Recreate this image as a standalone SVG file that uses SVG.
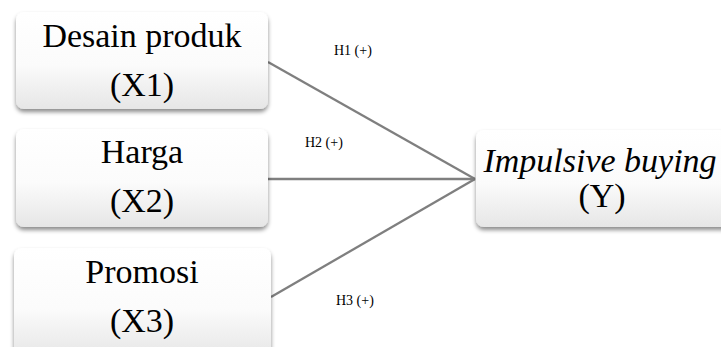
<svg xmlns="http://www.w3.org/2000/svg" width="721" height="347" viewBox="0 0 721 347">
<style>
.box{fill:url(#g);filter:url(#sh)}
.t{font-family:"Liberation Serif","Times New Roman",serif;font-size:34px;fill:#000;text-anchor:middle}
.lab{font-family:"Liberation Serif","Times New Roman",serif;font-size:14px;fill:#000}
.ln{stroke:#7f7f7f;stroke-width:2.3;fill:none}
</style>
<defs>
<linearGradient id="g" x1="0" y1="0" x2="0" y2="1">
<stop offset="0" stop-color="#ffffff"/>
<stop offset="0.55" stop-color="#fbfbfb"/>
<stop offset="1" stop-color="#e6e6e6"/>
</linearGradient>
<filter id="sh" x="-10%" y="-10%" width="120%" height="130%">
<feDropShadow dx="0" dy="3" stdDeviation="2" flood-color="#000" flood-opacity="0.45"/>
</filter>
</defs>
<rect width="721" height="347" fill="#fff"/>
<g id="connectors">
<line class="ln" x1="268" y1="62" x2="475" y2="179"/>
<line class="ln" x1="268" y1="179" x2="475" y2="179"/>
<line class="ln" x1="271" y1="297" x2="475" y2="179"/>
</g>
<g id="x1">
<rect class="box" x="16" y="12" width="252" height="97" rx="8"/>
<text class="t" x="142" y="47">Desain produk</text>
<text class="t" x="142" y="96">(X1)</text>
</g>
<g id="x2">
<rect class="box" x="16" y="129" width="252" height="98" rx="8"/>
<text class="t" x="142" y="163">Harga</text>
<text class="t" x="142" y="212">(X2)</text>
</g>
<g id="x3">
<rect class="box" x="14" y="248" width="257" height="110" rx="8"/>
<text class="t" x="142" y="283">Promosi</text>
<text class="t" x="142" y="332">(X3)</text>
</g>
<g id="y">
<rect class="box" x="476" y="130" width="260" height="97" rx="8"/>
<text class="t" x="600" y="172" font-style="italic">Impulsive buying</text>
<text class="t" x="602" y="207">(Y)</text>
</g>
<g id="labels">
<text class="lab" x="334" y="55">H1 (+)</text>
<text class="lab" x="305" y="147">H2 (+)</text>
<text class="lab" x="336" y="305">H3 (+)</text>
</g>
</svg>
